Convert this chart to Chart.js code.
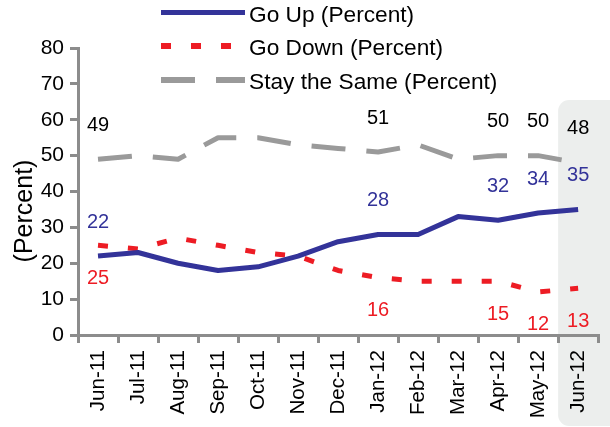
<!DOCTYPE html>
<html>
<head>
<meta charset="utf-8">
<script src="https://cdn.jsdelivr.net/npm/chart.js@4/dist/chart.umd.min.js"></script>
<style>
  html, body { margin: 0; padding: 0; background: #ffffff; }
  #wrap { width: 610px; height: 427px; position: relative; }
</style>
</head>
<body>
<div id="wrap"><canvas id="c" width="610" height="427"></canvas></div>
<script>
// Monthly survey: expected direction (percent of respondents)
const categories = ['Jun-11', 'Jul-11', 'Aug-11', 'Sep-11', 'Oct-11', 'Nov-11', 'Dec-11',
                    'Jan-12', 'Feb-12', 'Mar-12', 'Apr-12', 'May-12', 'Jun-12'];
const goUp      = [22, 23, 20, 18, 19, 22, 26, 28, 28, 33, 32, 34, 35];
const goDown    = [25, 24, 27, 25, 23, 22, 18, 16, 15, 15, 15, 12, 13];
const staySame  = [49, 50, 49, 55, 55, 53, 52, 51, 53, 49, 50, 50, 48];
const seriesNames = ['Go Up (Percent)', 'Go Down (Percent)', 'Stay the Same (Percent)'];
const yMin = 0, yMax = 80, yStep = 10;
const yTitle = '(Percent)';
// months whose values are written next to the lines
const labeledPoints = [0, 7, 10, 11, 12];
// month highlighted with a shaded column
const highlightIndex = 12;

const FONT = '"Liberation Sans", Arial, sans-serif';
const AXIS_GRAY = '#8c8c8c';

const datasets = [
  { label: seriesNames[0], data: goUp, borderColor: '#333399', borderWidth: 5,
    borderDash: [], labelColor: '#333399', labelOffset: -34 },
  { label: seriesNames[1], data: goDown, borderColor: '#ed1c24', borderWidth: 5,
    borderDash: [10, 20], labelColor: '#ed1c24', labelOffset: 33 },
  { label: seriesNames[2], data: staySame, borderColor: '#9a9a9a', borderWidth: 5,
    borderDash: [34, 21], labelColor: '#000000', labelOffset: -34 }
].map(d => Object.assign(d, { fill: false, tension: 0, pointRadius: 0, pointHoverRadius: 0,
                              borderCapStyle: 'butt', borderJoinStyle: 'round' }));

// shaded rounded column behind the highlighted month
const highlightPlugin = {
  id: 'highlight',
  beforeDraw(chart) {
    const { ctx, scales: { x } } = chart;
    const left = (x.getPixelForValue(highlightIndex - 1) + x.getPixelForValue(highlightIndex)) / 2;
    const top = chart.chartArea.top + 52;
    const bottom = chart.height - 1;
    const right = chart.width + 20;
    const r = 11;
    ctx.save();
    ctx.fillStyle = '#eceeed';
    ctx.beginPath();
    ctx.moveTo(left + r, top);
    ctx.lineTo(right, top);
    ctx.lineTo(right, bottom);
    ctx.lineTo(left + r, bottom);
    ctx.arcTo(left, bottom, left, bottom - r, r);
    ctx.lineTo(left, top + r);
    ctx.arcTo(left, top, left + r, top, r);
    ctx.closePath();
    ctx.fill();
    ctx.restore();
  }
};

// value labels, legend rows and rotated axis title
const annotatePlugin = {
  id: 'annotate',
  afterDatasetsDraw(chart) {
    const { ctx, scales: { x, y } } = chart;
    ctx.save();
    ctx.font = '20px ' + FONT;
    ctx.textAlign = 'center';
    ctx.textBaseline = 'middle';
    chart.data.datasets.forEach(ds => {
      ctx.fillStyle = ds.labelColor;
      labeledPoints.forEach(i => {
        const px = x.getPixelForValue(i);
        const py = y.getPixelForValue(ds.data[i]) + ds.labelOffset;
        ctx.fillText(String(ds.data[i]), px, py);
      });
    });
    ctx.restore();
  },
  afterDraw(chart) {
    const { ctx } = chart;
    // legend
    ctx.save();
    const lx0 = 161, lx1 = 245, textX = 249;
    const rowY = [12.5, 46, 80];
    chart.data.datasets.forEach((ds, k) => {
      ctx.strokeStyle = ds.borderColor;
      ctx.lineWidth = ds.borderWidth + (k === 0 ? 0 : 1);
      ctx.lineCap = 'butt';
      ctx.setLineDash(ds.borderDash);
      ctx.beginPath();
      ctx.moveTo(lx0, rowY[k]);
      ctx.lineTo(lx1, rowY[k]);
      ctx.stroke();
      ctx.setLineDash([]);
      ctx.fillStyle = '#000000';
      ctx.font = '22.7px ' + FONT;
      ctx.textAlign = 'left';
      ctx.textBaseline = 'middle';
      ctx.fillText(ds.label, textX, rowY[k] + 3);
    });
    // y axis title
    ctx.translate(25, 211);
    ctx.rotate(-Math.PI / 2);
    ctx.font = '25px ' + FONT;
    ctx.textAlign = 'center';
    ctx.textBaseline = 'middle';
    ctx.fillStyle = '#000000';
    ctx.fillText(yTitle, 0, 0);
    ctx.restore();
  }
};

new Chart(document.getElementById('c'), {
  type: 'line',
  data: { labels: categories, datasets },
  options: {
    responsive: false,
    animation: false,
    events: [],
    layout: { padding: { left: 0, top: 48, right: 7, bottom: 0 } },
    plugins: { legend: { display: false }, tooltip: { enabled: false }, title: { display: false } },
    scales: {
      x: {
        offset: true,
        grid: { offset: true, drawOnChartArea: false, drawTicks: true, tickLength: 8,
                color: AXIS_GRAY, lineWidth: 3 },
        border: { display: true, color: AXIS_GRAY, width: 3 },
        ticks: { color: '#000000', font: { family: FONT, size: 20.5 }, padding: 7,
                 minRotation: 90, maxRotation: 90, autoSkip: false },
        afterFit(scale) { scale.height = 92; }
      },
      y: {
        min: yMin, max: yMax,
        grid: { drawOnChartArea: false, drawTicks: true, tickLength: 8,
                color: AXIS_GRAY, lineWidth: 3 },
        border: { display: true, color: AXIS_GRAY, width: 3 },
        ticks: { stepSize: yStep, color: '#000000', font: { family: FONT, size: 21 }, padding: 6 },
        afterFit(scale) { scale.width = 78; }
      }
    }
  },
  plugins: [highlightPlugin, annotatePlugin]
});
</script>
</body>
</html>
